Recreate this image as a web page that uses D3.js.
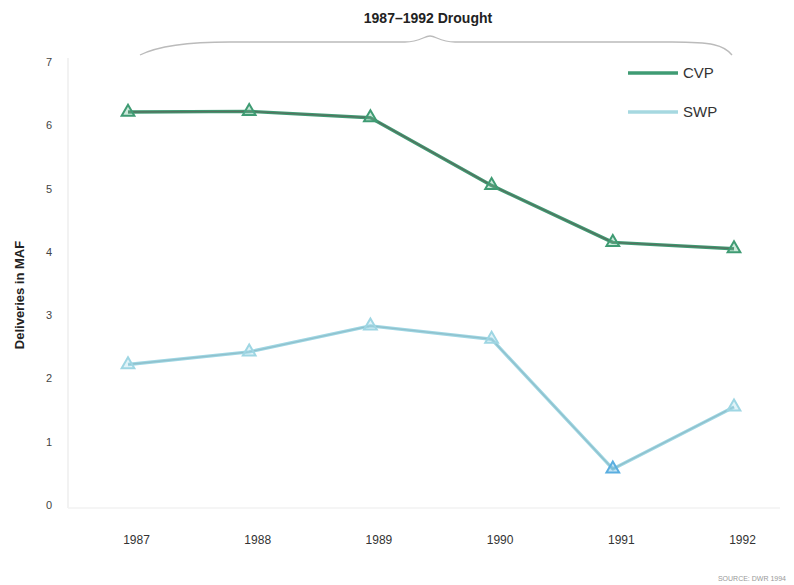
<!DOCTYPE html>
<html><head><meta charset="utf-8">
<script src="https://cdn.jsdelivr.net/npm/d3@7"></script>
<style>body{margin:0;background:#fff}svg{display:block}</style>
</head><body>
<svg id="c" width="794" height="585"></svg>
<script>
const years = ["1987","1988","1989","1990","1991","1992"];
const cvp = [6.21, 6.22, 6.12, 5.05, 4.15, 4.05];
const swp = [2.22, 2.42, 2.83, 2.62, 0.57, 1.55];
const yTicks = [0,1,2,3,4,5,6,7];
const seriesNames = ["CVP","SWP"];
const title = "1987–1992 Drought";
const yTitle = "Deliveries in MAF";
const source = "SOURCE: DWR 1994";

const svg = d3.select("#c");
const x = d3.scalePoint().domain(years).range([128, 734]);
const y = d3.scaleLinear().domain([0,7]).range([505, 62]);

// faint axes
svg.append("line").attr("x1",68).attr("x2",68).attr("y1",58).attr("y2",508).attr("stroke","#eee").attr("stroke-width",1.5);
svg.append("line").attr("x1",68).attr("x2",780).attr("y1",508).attr("y2",508).attr("stroke","#f2f2f2").attr("stroke-width",1.5);

const ya = svg.append("g").attr("transform","translate(56,0)")
  .call(d3.axisLeft(y).tickValues(yTicks).tickFormat(d3.format("d")).tickSize(0).tickPadding(0));
ya.select(".domain").remove();
ya.selectAll("text").attr("font-family","Liberation Sans, Arial").attr("font-size",11).attr("fill","#444").attr("text-anchor","middle").attr("dx",0).attr("x",-7);

const xa = svg.append("g").attr("transform","translate(8,540)")
  .call(d3.axisBottom(x).tickSize(0).tickPadding(0));
xa.select(".domain").remove();
xa.selectAll("text").attr("font-family","Liberation Sans Narrow, Arial").attr("font-size",12).attr("fill","#333").attr("dy","0.35em");

svg.append("text").attr("transform","translate(24,295) rotate(-90)").attr("text-anchor","middle")
  .attr("font-family","Liberation Sans, Arial").attr("font-weight","bold").attr("font-size",13).attr("fill","#222").text(yTitle);

svg.append("text").attr("x",428).attr("y",23).attr("text-anchor","middle")
  .attr("font-family","Liberation Sans Narrow, Arial").attr("font-weight","bold").attr("font-size",14).attr("fill","#222").text(title);

// brace
const xl = x(years[0])+12, xr = x(years[5])-2, xm = 430;
const bp = d3.path();
bp.moveTo(xl,55); bp.bezierCurveTo(xl+20,45, xl+50,42, xl+90,42);
bp.lineTo(xm-25,42); bp.bezierCurveTo(xm-10,42, xm-6,36, xm,36);
bp.bezierCurveTo(xm+6,36, xm+10,42, xm+25,42);
bp.lineTo(xr-60,42); bp.bezierCurveTo(xr-20,42, xr-8,45, xr,55);
svg.append("path").attr("d",bp.toString()).attr("fill","none").attr("stroke","#bbb").attr("stroke-width",1.3);

const line = d3.line().x((d,i)=>x(years[i])).y(d=>y(d));
const tri = d3.symbol().type(d3.symbolTriangle).size(70);

function drawSeries(data, col, core, mk, special){
  svg.append("path").attr("d",line(data)).attr("fill","none").attr("stroke",col).attr("stroke-width",3.4).attr("stroke-linejoin","round");
  svg.append("path").attr("d",line(data)).attr("fill","none").attr("stroke",core).attr("stroke-width",1.3);
  svg.append("g").selectAll("path").data(data).join("path")
    .attr("transform",(d,i)=>`translate(${x(years[i])},${y(d)})`)
    .attr("d",tri)
    .attr("fill",(d,i)=> special && special[i] ? special[i] : mk).attr("fill-opacity",0.35)
    .attr("stroke",(d,i)=> special && special[i] ? special[i] : col).attr("stroke-width",2);
}
drawSeries(cvp, "#3f9b73", "#55705f", "#6fbf97");
drawSeries(swp, "#9ed6e3", "#8fc0cc", "#a8dcea", {4:"#5aaee0"});

// legend
const lg = [{n:seriesNames[0],c:"#3f9b73",yy:73},{n:seriesNames[1],c:"#a6d8e0",yy:112}];
lg.forEach(l=>{
  svg.append("line").attr("x1",628).attr("x2",678).attr("y1",l.yy).attr("y2",l.yy).attr("stroke",l.c).attr("stroke-width",3.5);
  svg.append("text").attr("x",683).attr("y",l.yy+5).attr("font-family","Liberation Sans, Arial").attr("font-size",15).attr("fill","#333").text(l.n);
});

svg.append("text").attr("x",786).attr("y",581).attr("text-anchor","end")
  .attr("font-family","Liberation Sans Narrow, Arial").attr("font-size",7).attr("fill","#999").text(source);
</script>
</body></html>
